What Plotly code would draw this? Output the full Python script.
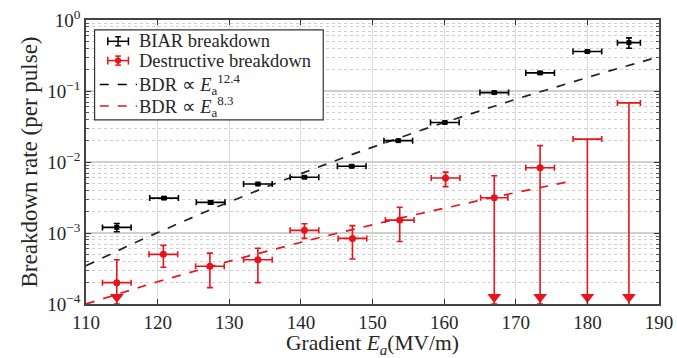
import numpy as np
import plotly.graph_objects as go

# ---- data ----
biar_x = [114.3, 120.9, 127.4, 134.0, 140.5, 147.1, 153.6, 160.1, 167.0, 173.4, 180.0, 185.8]
biar_y = [1.2e-3, 3.1e-3, 2.7e-3, 4.9e-3, 6.1e-3, 8.7e-3, 2.0e-2, 3.6e-2, 9.5e-2, 0.18, 0.36, 0.48]
biar_yerr = [0.16e-3, 0.1e-3, 0.15e-3, 0.15e-3, 0.2e-3, 0.3e-3, 0.6e-3, 1.2e-3, 3e-3, 6e-3, 1.2e-2, 0.08]
biar_xerr = [2.0, 2.0, 2.0, 2.0, 2.0, 2.0, 2.0, 2.0, 2.0, 2.0, 2.0, 1.6]

red_x = [114.3, 120.8, 127.3, 134.0, 140.5, 147.2, 153.8, 160.2, 167.0, 173.4]
red_y = [2.0e-4, 5.0e-4, 3.4e-4, 4.2e-4, 1.09e-3, 8.4e-4, 1.52e-3, 5.95e-3, 3.14e-3, 8.3e-3]
red_hi = [4.2e-4, 6.7e-4, 5.2e-4, 6.1e-4, 1.35e-3, 1.27e-3, 2.3e-3, 7.2e-3, 6.4e-3, 1.7e-2]
red_lo = [None, 3.3e-4, 1.7e-4, 2.0e-4, 8.4e-4, 4.3e-4, 7.6e-4, 4.5e-3, None, None]  # None = no lower bound (arrow)
red_xerr = [2.0, 2.0, 2.0, 2.0, 2.0, 2.0, 2.0, 2.0, 1.9, 2.0]

# upper limits only (no measured point)
lim_x = [180.0, 185.8]
lim_y = [2.1e-2, 6.8e-2]
lim_xerr = [2.0, 1.6]

# power-law fits
black_exp, black_at110, black_range = 12.4, 3.46e-4, [110, 190]
red_exp, red_at110, red_range = 8.3, 1.0e-4, [110, 177]

x_range = [110, 190]
y_decades = [-4, 0]
x_ticks = [110, 120, 130, 140, 150, 160, 170, 180, 190]

RED = "#e8141c"
FONT = "Liberation Serif"
TXT = "#262626"
ymin = 10 ** y_decades[0]

fig = go.Figure()

# fit lines
bx = np.linspace(*black_range, 60)
fig.add_trace(go.Scatter(x=bx, y=black_at110 * (bx / 110) ** black_exp, mode="lines",
                         line=dict(color="#222", width=1.7, dash="dash"), showlegend=False))
rx = np.linspace(*red_range, 60)
fig.add_trace(go.Scatter(x=rx, y=red_at110 * (rx / 110) ** red_exp, mode="lines",
                         line=dict(color=RED, width=1.7, dash="dash"), showlegend=False))

# BIAR
fig.add_trace(go.Scatter(x=biar_x, y=biar_y, mode="markers", name="BIAR breakdown",
                         marker=dict(color="black", symbol="square", size=5),
                         error_x=dict(type="data", array=biar_xerr, color="black", thickness=1.6, width=3),
                         error_y=dict(type="data", array=biar_yerr, color="black", thickness=1.6, width=3),
                         showlegend=False, cliponaxis=False))

# destructive
arr_up = [h - y for h, y in zip(red_hi, red_y)]
arr_dn = [(y - (lo if lo is not None else ymin)) for lo, y in zip(red_lo, red_y)]
fig.add_trace(go.Scatter(x=red_x, y=red_y, mode="markers", name="Destructive breakdown",
                         marker=dict(color=RED, symbol="circle", size=7),
                         error_x=dict(type="data", array=red_xerr, color=RED, thickness=1.6, width=3),
                         error_y=dict(type="data", symmetric=False, array=arr_up, arrayminus=arr_dn,
                                      color=RED, thickness=1.6, width=3),
                         showlegend=False, cliponaxis=False))
fig.add_trace(go.Scatter(x=lim_x, y=lim_y, mode="markers", marker=dict(size=1, color=RED, opacity=0),
                         error_x=dict(type="data", array=lim_xerr, color=RED, thickness=1.6, width=3),
                         error_y=dict(type="data", symmetric=False, array=[0] * len(lim_y),
                                      arrayminus=[y - ymin for y in lim_y], color=RED, thickness=1.6, width=0),
                         showlegend=False, cliponaxis=False))

# arrow heads for upper limits
arrow_x = [x for x, lo in zip(red_x, red_lo) if lo is None] + lim_x
px_per_dec = 284 / (y_decades[1] - y_decades[0])
arrow_y = [10 ** (y_decades[0] + 7 / px_per_dec)] * len(arrow_x)
fig.add_trace(go.Scatter(x=arrow_x, y=arrow_y, mode="markers",
                         marker=dict(symbol="triangle-down", size=12, color=RED, line=dict(width=0)),
                         showlegend=False, cliponaxis=False))

# ---- custom legend (paper coords) ----
lx0, lx1, ly_top, ly_bot = 0.015, 0.414, 0.965, 0.648
fig.add_shape(type="rect", xref="paper", yref="paper", x0=lx0, x1=lx1, y0=ly_bot, y1=ly_top,
              line=dict(color="#333", width=1.2), fillcolor="white", layer="above")
rows = [0.925, 0.857, 0.773, 0.697]
labels = ["BIAR breakdown", "Destructive breakdown",
          "BDR ∝ <i>E</i><sub>a</sub><sup>12.4</sup>", "BDR ∝ <i>E</i><sub>a</sub><sup>8.3</sup>"]
sym_c, sym_hw = 0.056, 0.018
dash_x0, dash_x1 = 0.024, 0.089
cap_h, vbar_h, vcap_w = 0.014, 0.016, 0.005
for i, (yy, lab) in enumerate(zip(rows, labels)):
    fig.add_annotation(xref="paper", yref="paper", x=0.089, y=yy, text=lab, showarrow=False,
                       xanchor="left", yanchor="middle", font=dict(family=FONT, size=18.5, color=TXT))
    col = "black" if i in (0, 2) else RED
    if i < 2:
        fig.add_shape(type="line", xref="paper", yref="paper", x0=sym_c - sym_hw, x1=sym_c + sym_hw, y0=yy, y1=yy,
                      line=dict(color=col, width=1.5), layer="above")
        for xx in (sym_c - sym_hw, sym_c + sym_hw):
            fig.add_shape(type="line", xref="paper", yref="paper", x0=xx, x1=xx, y0=yy - cap_h, y1=yy + cap_h,
                          line=dict(color=col, width=1.5), layer="above")
        fig.add_shape(type="line", xref="paper", yref="paper", x0=sym_c, x1=sym_c, y0=yy - vbar_h, y1=yy + vbar_h,
                      line=dict(color=col, width=1.5), layer="above")
        for dy in (-vbar_h, vbar_h):
            fig.add_shape(type="line", xref="paper", yref="paper", x0=sym_c - vcap_w, x1=sym_c + vcap_w,
                          y0=yy + dy, y1=yy + dy, line=dict(color=col, width=1.5), layer="above")
        if i == 1:
            fig.add_shape(type="circle", xref="paper", yref="paper", x0=sym_c - 0.0055, x1=sym_c + 0.0055,
                          y0=yy - 0.011, y1=yy + 0.011, fillcolor=RED, line=dict(color=RED, width=0), layer="above")
    else:
        fig.add_shape(type="line", xref="paper", yref="paper", x0=dash_x0, x1=dash_x1, y0=yy, y1=yy,
                      line=dict(color=col, width=1.6, dash="dash"), layer="above")

ytv = [10.0 ** d for d in range(y_decades[0], y_decades[1] + 1)]
ytt = ["10<sup>%s</sup>" % (str(d).replace("-", "−")) for d in range(y_decades[0], y_decades[1] + 1)]
minor_vals = [m * 10.0 ** d for d in range(y_decades[0], y_decades[1]) for m in range(2, 10)]

fig.update_layout(
    width=677, height=358, margin=dict(l=86, r=18, t=20, b=54, autoexpand=False),
    paper_bgcolor="white", plot_bgcolor="white",
    font=dict(family=FONT, size=19, color=TXT),
    showlegend=False,
)
fig.update_xaxes(range=x_range, tickvals=x_ticks, ticks="inside", ticklen=5, tickcolor="#333",
                 showline=True, linecolor="#444", linewidth=1.5, mirror="ticks", automargin=False,
                 showgrid=True, gridcolor="#dcdcdc", gridwidth=1, zeroline=False,
                 tickfont=dict(family=FONT, size=19, color=TXT),
                 title=dict(text="Gradient <i>E<sub>a</sub></i>(MV/m)", standoff=4,
                            font=dict(family=FONT, size=21.5, color=TXT)))
fig.update_yaxes(type="log", range=y_decades, tickvals=ytv, ticktext=ytt, ticks="inside", ticklen=5,
                 tickcolor="#333", showline=True, linecolor="#444", linewidth=1.5, mirror="ticks",
                 automargin=False,
                 showgrid=True, gridcolor="#d0d0d0", gridwidth=1.5, zeroline=False,
                 minor=dict(tickvals=minor_vals, ticks="inside", ticklen=3, tickcolor="#555",
                            showgrid=True, gridcolor="#cfcfcf", griddash="dot", gridwidth=1),
                 tickfont=dict(family=FONT, size=19, color=TXT),
                 title=dict(text="Breakdown rate (per pulse)", standoff=3,
                            font=dict(family=FONT, size=23, color=TXT)))

fig.write_html("out.html")
